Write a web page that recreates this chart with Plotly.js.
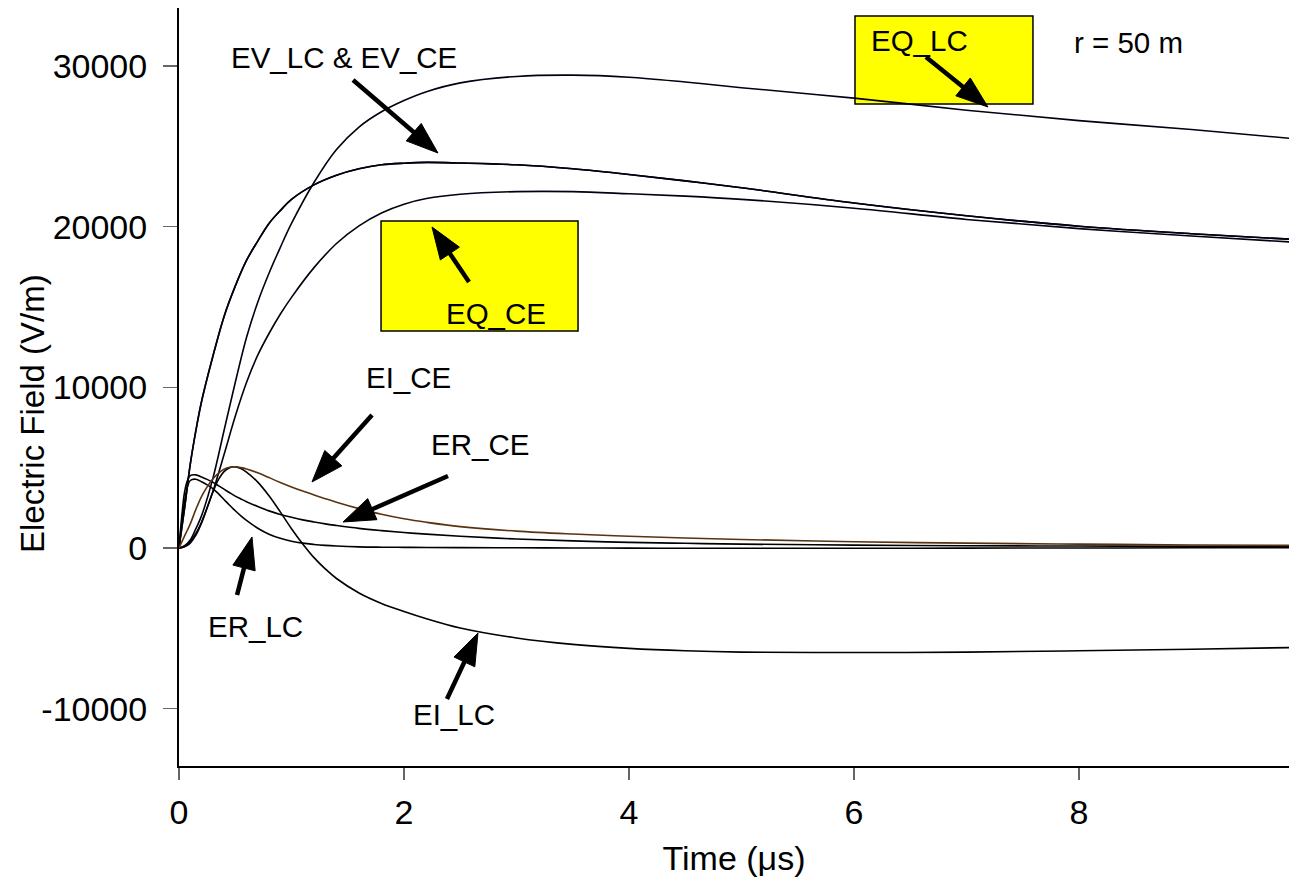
<!DOCTYPE html>
<html>
<head>
<meta charset="utf-8">
<script src="https://cdn.plot.ly/plotly-3.0.1.min.js"></script>
<style>html,body{margin:0;padding:0;background:#fff}#chart{width:1289px;height:883px}</style>
</head>
<body>
<div id="chart"></div>
<script>
// ---- data (time in µs, field in V/m) ----
const tMain = [0, 0.05, 0.1, 0.15, 0.2, 0.3, 0.4, 0.5, 0.6, 0.7, 0.8, 0.9, 1.0, 1.2, 1.4, 1.6, 1.8, 2.0, 2.2, 2.5, 3.0, 3.5, 4.0, 4.5, 5.0, 6.0, 7.0, 8.0, 9.0, 9.87];
const EV_LC = [0, 2500, 5200, 7300, 9100, 11900, 14400, 16300, 17900, 19100, 20200, 21000, 21700, 22600, 23200, 23600, 23850, 23950, 24000, 23960, 23850, 23600, 23250, 22850, 22420, 21470, 20680, 20030, 19560, 19220];
const EV_CE = [0, 2500, 5200, 7300, 9100, 11900, 14400, 16300, 17900, 19100, 20200, 21000, 21700, 22600, 23200, 23600, 23850, 23950, 24000, 23960, 23850, 23600, 23250, 22850, 22420, 21470, 20680, 20030, 19560, 19220];
const EQ_LC = [0, 150, 500, 1200, 2000, 4300, 7300, 10300, 13100, 15300, 17100, 18700, 20200, 22750, 24800, 26200, 27150, 27850, 28400, 28950, 29350, 29430, 29300, 29000, 28650, 28000, 27250, 26600, 26050, 25500];
const EQ_CE = [0, 100, 400, 900, 1600, 3500, 5800, 8200, 10300, 12000, 13350, 14550, 15600, 17450, 18950, 20050, 20850, 21400, 21750, 22020, 22180, 22180, 22050, 21900, 21700, 21150, 20450, 19880, 19420, 19050];

const tSmall = [0, 0.025, 0.05, 0.075, 0.1, 0.15, 0.2, 0.25, 0.3, 0.35, 0.4, 0.45, 0.5, 0.55, 0.6, 0.7, 0.8, 0.9, 1.0, 1.1, 1.2, 1.3, 1.4, 1.6, 1.8, 2.0, 2.2, 2.5, 3.0, 3.5, 4.0, 4.5, 5.0, 6.0, 7.0, 8.0, 9.0, 9.87];
const EI_CE = [0, 380, 750, 1120, 1500, 2400, 3200, 3800, 4300, 4650, 4900, 5030, 5050, 5000, 4920, 4680, 4380, 4080, 3800, 3540, 3300, 3070, 2850, 2450, 2100, 1820, 1600, 1330, 1050, 870, 730, 620, 530, 390, 300, 240, 190, 160];
const ER_CE = [0, 2000, 3500, 4200, 4500, 4550, 4420, 4270, 4100, 3880, 3660, 3440, 3230, 3050, 2880, 2580, 2310, 2090, 1910, 1750, 1620, 1500, 1400, 1220, 1080, 960, 860, 730, 560, 440, 350, 290, 240, 180, 140, 120, 100, 90];
const ER_LC = [0, 1600, 2900, 3800, 4200, 4280, 4120, 3930, 3700, 3380, 3020, 2660, 2320, 2000, 1720, 1230, 860, 600, 420, 300, 220, 160, 120, 70, 50, 40, 30, 20, 10, 0, -10, -15, -20, -20, -10, 0, 10, 20];
const EI_LC = [0, 20, 80, 170, 300, 800, 1550, 2500, 3450, 4250, 4750, 5000, 5050, 4950, 4720, 4100, 3250, 2250, 1200, 250, -600, -1300, -1900, -2800, -3450, -3950, -4400, -4980, -5600, -6000, -6250, -6400, -6480, -6510, -6480, -6400, -6300, -6200];

const xTicks = [0, 2, 4, 6, 8];
const yTicks = [-10000, 0, 10000, 20000, 30000];
const yTickText = ['-10000', '0', '10000', '20000', '30000'];

// ---- labels and arrows (tail -> tip, in axis units) ----
const labelText = ['EV_LC & EV_CE', 'EQ_LC', 'r = 50 m', 'EQ_CE', 'EI_CE', 'ER_CE', 'ER_LC', 'EI_LC'];
const labelPos = [[1.467, 30560], [6.578, 31618], [8.444, 31493], [2.822, 14626], [2.036, 10581], [2.673, 6411], [0.684, -4917], [2.444, -10394]];
const arrowTail = [[1.547, 29128], [6.64, 30560], [2.578, 16556], [1.716, 8278], [2.391, 4481], [0.516, -2925], [2.382, -9398]];
const arrowTip = [[2.302, 24585], [7.191, 27448], [2.249, 19979], [1.182, 4108], [1.458, 1618], [0.649, 685], [2.658, -5290]];

const FONT = 'Liberation Sans, Arial, Helvetica, sans-serif';
const xRange = [0, 9.867];
const yRange = [-13570, 33610];
const W = 1289, H = 883;
const M = {l: 179, r: 0, t: 8, b: 117};
const kx = (W - M.l - M.r) / (xRange[1] - xRange[0]);
const ky = (H - M.t - M.b) / (yRange[1] - yRange[0]);

function line(x, y, color, name) {
  return {x: x, y: y, type: 'scatter', mode: 'lines', name: name,
    line: {color: color, width: 1.6, shape: 'spline', smoothing: 1}, hoverinfo: 'skip'};
}
const traces = [
  line(tMain, EQ_LC, '#000010', 'EQ_LC'),
  line(tMain, EV_LC, '#000010', 'EV_LC'),
  line(tMain, EV_CE, '#000010', 'EV_CE'),
  line(tMain, EQ_CE, '#000010', 'EQ_CE'),
  line(tSmall, ER_LC, '#000000', 'ER_LC'),
  line(tSmall, ER_CE, '#000000', 'ER_CE'),
  line(tSmall, EI_LC, '#000000', 'EI_LC'),
  line(tSmall, EI_CE, '#5a3210', 'EI_CE')
];

const shapes = [
  {type: 'rect', xref: 'x', yref: 'y', x0: 6.009, x1: 7.591, y0: 27635, y1: 33112,
   fillcolor: '#ffff00', line: {color: '#000', width: 1.5}, layer: 'below'},
  {type: 'rect', xref: 'x', yref: 'y', x0: 1.796, x1: 3.547, y0: 13506, y1: 20352,
   fillcolor: '#ffff00', line: {color: '#000', width: 1.5}, layer: 'below'}
];

const HL = 32, HW = 11.5;
for (let i = 0; i < arrowTail.length; i++) {
  const T = [arrowTail[i][0] * kx, arrowTail[i][1] * ky];
  const P = [arrowTip[i][0] * kx, arrowTip[i][1] * ky];
  const d = Math.hypot(P[0] - T[0], P[1] - T[1]);
  const u = [(P[0] - T[0]) / d, (P[1] - T[1]) / d];
  const n = [-u[1], u[0]];
  const B = [P[0] - u[0] * HL, P[1] - u[1] * HL];
  const S = [B[0] + u[0] * 4, B[1] + u[1] * 4];
  const c1 = [B[0] + n[0] * HW, B[1] + n[1] * HW];
  const c2 = [B[0] - n[0] * HW, B[1] - n[1] * HW];
  shapes.push({type: 'line', xref: 'x', yref: 'y', x0: T[0] / kx, y0: T[1] / ky, x1: S[0] / kx, y1: S[1] / ky,
    line: {color: '#000', width: 4.5}, layer: 'above'});
  shapes.push({type: 'path', xref: 'x', yref: 'y', layer: 'above',
    path: 'M' + (P[0] / kx) + ',' + (P[1] / ky) + ' L' + (c1[0] / kx) + ',' + (c1[1] / ky) + ' L' + (c2[0] / kx) + ',' + (c2[1] / ky) + ' Z',
    fillcolor: '#000', line: {color: '#000', width: 1}});
}

const annotations = labelText.map((t, i) => ({
  text: t, x: labelPos[i][0], y: labelPos[i][1], xref: 'x', yref: 'y',
  showarrow: false, xanchor: 'center', yanchor: 'middle',
  font: {family: FONT, size: 29.5, color: '#000'}
}));
annotations.push({
  text: 'Electric Field (V/m)', textangle: -90, xref: 'paper', yref: 'paper',
  x: (32 - M.l) / (W - M.l - M.r), y: (H - M.b - 414) / (H - M.t - M.b),
  showarrow: false, xanchor: 'center', yanchor: 'middle',
  font: {family: FONT, size: 33, color: '#000'}
});

const layout = {
  width: W, height: H,
  margin: {l: M.l, r: M.r, t: M.t, b: M.b, pad: 0},
  paper_bgcolor: '#fff', plot_bgcolor: '#fff',
  showlegend: false,
  font: {family: FONT, color: '#000'},
  xaxis: {
    range: xRange, tickvals: xTicks, showgrid: false, zeroline: false,
    showline: true, linecolor: '#000', linewidth: 2,
    ticks: 'outside', ticklen: 12, tickwidth: 1.5, tickcolor: '#666',
    ticklabelstandoff: 3,
    tickfont: {family: FONT, size: 34, color: '#000'},
    title: {text: 'Time (μs)', font: {family: FONT, size: 34, color: '#000'}, standoff: 16}
  },
  yaxis: {
    range: yRange, tickvals: yTicks, ticktext: yTickText, showgrid: false, zeroline: false,
    showline: true, linecolor: '#000', linewidth: 2,
    ticks: 'outside', ticklen: 14, tickwidth: 1.5, tickcolor: '#666',
    ticklabelstandoff: 9,
    tickfont: {family: FONT, size: 34, color: '#000'}
  },
  shapes: shapes,
  annotations: annotations
};

Plotly.newPlot('chart', traces, layout, {staticPlot: true, displayModeBar: false});
</script>
</body>
</html>
